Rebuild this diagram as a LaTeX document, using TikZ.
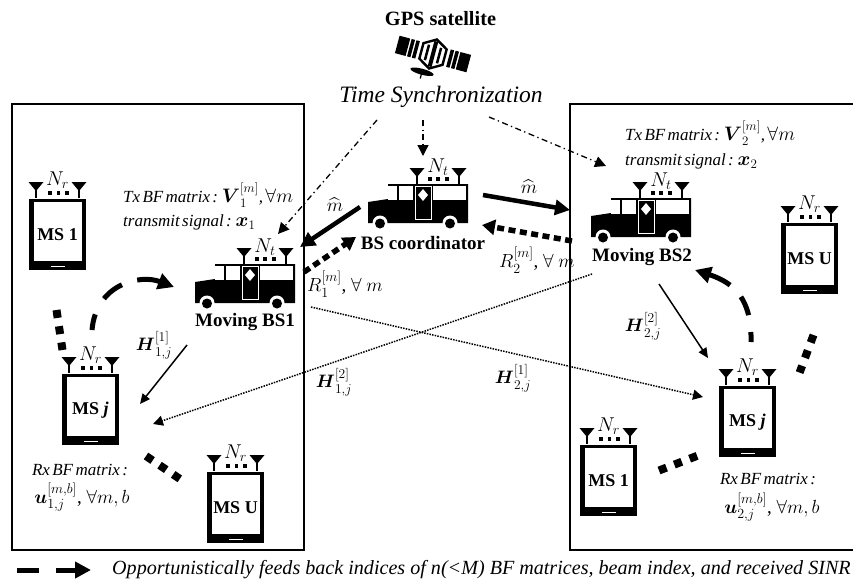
\RequirePackage{fix-cm}
\documentclass[tikz,border=0pt]{standalone}
\usepackage{amsmath,amssymb}
\usepackage{fontspec}
\setmainfont{Liberation Serif}
\usetikzlibrary{arrows.meta}
\DeclareMathSizes{17}{19.5}{13}{10}
\DeclareMathSizes{18}{18}{13.5}{10}
\DeclareMathSizes{19}{19}{14}{11}
\DeclareMathSizes{20}{20}{14}{11}
\newcommand{\tightwords}{\setlength{\spaceskip}{0.14em}}
\tikzset{
  x=1pt,y=-1pt,
  region/.style={draw=black,line width=1.5pt},
  sync/.style={draw=black,line width=1.3pt,dash pattern=on 6pt off 3.5pt on 1.3pt off 3.5pt,-{Triangle[length=11pt,width=11pt]}},
  cmd/.style={draw=black,line width=4.5pt,-{Triangle[length=15pt,width=15pt]}},
  rate/.style={draw=black,line width=5.5pt,dash pattern=on 7pt off 4.5pt,-{Triangle[length=13pt,width=15pt]}},
  cross/.style={draw=black,line width=1.5pt,dash pattern=on 1.5pt off 1.2pt,-{Triangle[length=10pt,width=10pt]}},
  direct/.style={draw=black,line width=1.5pt,-{Triangle[length=10pt,width=9pt]}},
  feedback/.style={draw=black,line width=5pt,-{Triangle[length=16pt,width=16pt]}},
  gap/.style={draw=black,line width=8pt,dash pattern=on 8pt off 8.4pt},
  boldlab/.style={font=\bfseries\fontsize{19}{22}\selectfont,inner sep=0pt},
  phonelab/.style={font=\bfseries\fontsize{18}{21}\selectfont,inner sep=0pt},
  itlab/.style={font=\itshape\fontsize{17}{20}\selectfont\tightwords,inner sep=0pt,anchor=west},
  mlab/.style={font=\fontsize{19}{22}\selectfont,inner sep=0pt},
  hlab/.style={font=\fontsize{18}{21}\selectfont,inner sep=0pt},
  ulab/.style={font=\fontsize{19}{22}\selectfont,inner sep=0pt},
  nlab/.style={font=\fontsize{20}{23}\selectfont,inner sep=0pt},
  antenna/.pic={
    \fill (-7.5,-8) -- (7.5,-8) -- (0,1) -- cycle;
    \draw[line width=1.4pt] (0,-4) -- (0,8);
  },
  phone/.pic={
    \fill (0,0) rectangle (57,71);
    \fill[white] (4.5,3) rectangle (52.5,62);
    \fill[white] (21.5,66.6) rectangle (35.5,68.4);
    \pic at (7,-9) {antenna};
    \pic at (50,-9) {antenna};
    \foreach \u in {21,29.5,38}{\fill (\u-1.7,-7.7) rectangle (\u+1.7,-4.3);}
    \node[nlab] (-n) at (28.5,-19) {$N_r$};
    \node[phonelab] (-t) at (28.5,36) {#1};
  },
  bus/.pic={
    \fill (0,-21) -- (20,-24) -- (20,-39) -- (100,-39) -- (100,0) -- (0,0) -- cycle;
    \fill[white] (31,-37) rectangle (45,-23);
    \fill[white] (65,-37) rectangle (98,-23);
    \fill[white] (20,-37) rectangle (29,-23);
    \draw[white,line width=0.6pt] (47,-36.5) rectangle (63,-4);
    \fill[white] (55,-34) -- (60,-28) -- (55,-22) -- (50,-28) -- cycle;
    \foreach \u in {12,82}{
      \fill[white] (\u,0) circle (7.5);
    }
    \fill[white] (0,0.5) rectangle (100,8);
    \foreach \u in {12,82}{\fill (\u,0.5) circle (5);}
    \pic at (49,-47) {antenna};
    \pic at (91,-47) {antenna};
    \foreach \u in {62,70,79}{\fill (\u-1.7,-45.7) rectangle (\u+1.7,-42.3);}
    \node[nlab] (-n) at (70,-56) {$N_t$};
  },
  satellite/.pic={
    \fill (-37,-9) rectangle (-26,9);
    \fill (-24.5,-9) rectangle (-21,9);
    \fill (-19.5,-9) rectangle (-16,9);
    \fill (37,-9) rectangle (26,9);
    \fill (24.5,-9) rectangle (21,9);
    \fill (19.5,-9) rectangle (16,9);
    \draw[line width=2.4pt,fill=white] (-12,-8) -- (0,-15) -- (12,-8) -- (12,8) -- (0,15) -- (-12,8) -- cycle;
    \fill (-7.5,-8) rectangle (-5,8);
    \fill (-2,-13) rectangle (2,13);
    \fill (5,-8) rectangle (7.5,8);
    \fill (-6,20) ellipse (12 and 3);
    \draw[line width=1.2pt] (-6,20) -- (-6,27);
  }
}
\begin{document}
\begin{tikzpicture}
\useasboundingbox (0,0) rectangle (853,581);
% regions
\draw[region] (12,104) rectangle (304,550);
\draw[region] (853,104) -- (570,104) -- (570,550) -- (853,550);
% satellite
\pic[rotate=-15] (sat) at (433,54) {satellite};
\node[boldlab,font=\bfseries\fontsize{20.3}{23}\selectfont] (gps) at (440.5,19) {GPS satellite};
\node[font=\itshape\fontsize{23.5}{26}\selectfont,inner sep=0pt] (sync) at (441,97) {Time Synchronization};
% buses
\pic (bsa) at (195,303) {bus};
\pic (bsb) at (591,237) {bus};
\pic (bsc) at (368,223) {bus};
\node[boldlab] (bsalab) at (245,322) {Moving BS1};
\node[boldlab] (bsblab) at (642,257) {Moving BS2};
\node[boldlab] (bsclab) at (423,243) {BS coordinator};
% phones
\pic (la) at (29,199) {phone={MS 1}};
\pic (lj) at (62,374) {phone={MS \textit{j}}};
\pic (lu) at (207,472) {phone={MS U}};
\pic (ru) at (781,223) {phone={MS U}};
\pic (rj) at (719,386) {phone={MS \textit{j}}};
\pic (ra) at (580,445) {phone={MS 1}};
% text
\node[itlab] (txa) at (123,195) {Tx BF matrix : $\boldsymbol{V}_{1}^{[m]}$, $\forall m$};
\node[itlab] (sga) at (123,222) {transmit signal : $\boldsymbol{x}_{1}$};
\node[itlab] (txb) at (625,133) {Tx BF matrix : $\boldsymbol{V}_{2}^{[m]}$, $\forall m$};
\node[itlab] (sgb) at (625,161) {transmit signal : $\boldsymbol{x}_{2}$};
\node[mlab,anchor=west] (ra1) at (307,284) {$R_{1}^{[m]}$, $\forall\ m$};
\node[mlab,anchor=west] (ra2) at (499,260) {$R_{2}^{[m]}$, $\forall\ m$};
\node[mlab] (ma) at (335,205) {$\widehat{m}$};
\node[mlab] (mb) at (529,187) {$\widehat{m}$};
\node[hlab] (h11) at (154,345) {$\boldsymbol{H}_{1,j}^{[1]}$};
\node[hlab] (h12) at (334,382) {$\boldsymbol{H}_{1,j}^{[2]}$};
\node[hlab] (h21) at (513,378) {$\boldsymbol{H}_{2,j}^{[1]}$};
\node[hlab] (h22) at (643,326) {$\boldsymbol{H}_{2,j}^{[2]}$};
\node[itlab,anchor=center] (rxa) at (80,470) {Rx BF matrix :};
\node[ulab] (ua) at (82,497) {$\boldsymbol{u}_{1,j}^{[m,b]}$, $\forall m,b$};
\node[itlab,anchor=center] (rxb) at (768,479) {Rx BF matrix :};
\node[ulab] (ub) at (772,507) {$\boldsymbol{u}_{2,j}^{[m,b]}$, $\forall m,b$};
\node[font=\itshape\fontsize{20.1}{23}\selectfont,inner sep=0pt,anchor=west] (legend) at (112,570) {Opportunistically feeds back indices of n(<M) BF matrices, beam index, and received SINR};
% connector ends
\coordinate (s1) at (377,120); \coordinate (e1) at (278,234);
\coordinate (s2) at (423,120); \coordinate (e2) at (423,156);
\coordinate (s3) at (489,117); \coordinate (e3) at (606,166);
\coordinate (m1s) at (360,207); \coordinate (m1e) at (300,247);
\coordinate (m2s) at (483,195); \coordinate (m2e) at (570,210);
\coordinate (r1s) at (304,272); \coordinate (r1e) at (356,237);
\coordinate (r2s) at (572,241); \coordinate (r2e) at (482,225);
\coordinate (d1s) at (311,307); \coordinate (d1e) at (703,397);
\coordinate (d2s) at (592,274); \coordinate (d2e) at (153,424);
\coordinate (k1s) at (187,345); \coordinate (k1e) at (140,404);
\coordinate (k2s) at (659,284); \coordinate (k2e) at (708,358);
\coordinate (f1s) at (92,330); \coordinate (f1a) at (96,284); \coordinate (f1b) at (140,274); \coordinate (f1e) at (174,287);
\coordinate (f2s) at (751,342); \coordinate (f2a) at (752,300); \coordinate (f2b) at (735,283); \coordinate (f2e) at (695,270);
% connectors
\draw[sync] (s1) -- (e1);
\draw[sync] (s2) -- (e2);
\draw[sync] (s3) -- (e3);
\draw[cmd] (m1s) -- (m1e);
\draw[cmd] (m2s) -- (m2e);
\draw[rate] (r1s) -- (r1e);
\draw[rate] (r2s) -- (r2e);
\draw[cross] (d1s) -- (d1e);
\draw[cross] (d2s) -- (d2e);
\draw[direct] (k1s) -- (k1e);
\draw[direct] (k2s) -- (k2e);
\draw[feedback,dash pattern=on 16pt off 18pt on 23pt off 16pt on 60pt] (f1s) .. controls (f1a) and (f1b) .. (f1e);
\draw[feedback,dash pattern=on 10pt off 17pt on 20pt off 16pt on 60pt] (f2s) .. controls (f2a) and (f2b) .. (f2e);
% ellipsis marks
\coordinate (g1s) at (56.5,310); \coordinate (g1e) at (62.5,350);
\coordinate (g2s) at (146,456); \coordinate (g2e) at (180,479);
\coordinate (g3s) at (813.5,335); \coordinate (g3e) at (799.6,372.6);
\coordinate (g4s) at (659,470.5); \coordinate (g4e) at (698,455.5);
\draw[gap] (g1s) -- (g1e);
\draw[gap] (g2s) -- (g2e);
\draw[gap] (g3s) -- (g3e);
\draw[gap] (g4s) -- (g4e);
% legend
\coordinate (l1s) at (17,570); \coordinate (l1e) at (39,570);
\coordinate (l2s) at (56,570); \coordinate (l2e) at (91,570);
\draw[draw=black,line width=5pt] (l1s) -- (l1e);
\draw[feedback] (l2s) -- (l2e);
\end{tikzpicture}
\end{document}
